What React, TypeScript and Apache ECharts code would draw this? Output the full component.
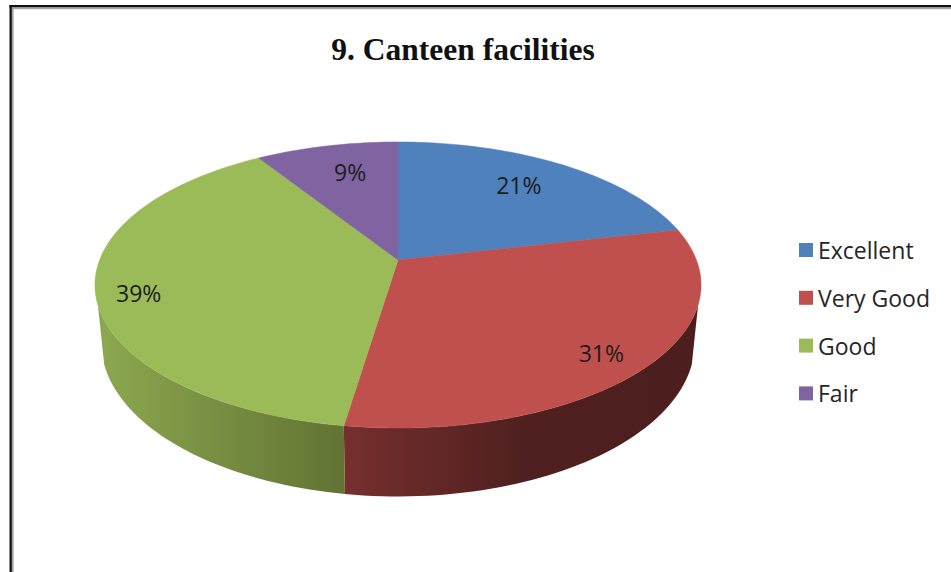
import React, { useEffect, useRef } from "react";
import * as echarts from "echarts";

const categories = ["Excellent", "Very Good", "Good", "Fair"];
const values = [21.4, 31.0, 38.6, 9.0];
const titleText = "9. Canteen facilities";

const topColors = ["#4f81bd", "#c0504d", "#9bbb59", "#8064a2"];
const wallStops = [
  [[0, "#3b608d"], [1, "#3b608d"]],
  [[0, "#762f2e"], [0.5, "#4f201f"], [1, "#4c1e1d"]],
  [[0, "#8ca84f"], [1, "#627334"]],
  [[0, "#5f4a79"], [1, "#5f4a79"]],
];
const labelRadius = [0.72, 0.87, 0.87, 0.74];
const labelNudge = [[-1, -4], [-9, 2], [3, 7], [7, 0]];

// Layout of the perspective projection of the pie's circular top face
const CX = 398;
const APEX_Y = 260;
const PERSP = -0.1748;
const KY = 93.2;
const KX = 298.4;
const RIM_MID_Y = 285;
const BOTTOM_MID_Y = 343;
const BOTTOM_SX = 0.979;
const BOTTOM_SY = 1.073;
const WALL_V = 0.307;
const LABEL_FONT = '23px "Open Sans", sans-serif';

const total = values.reduce((a, b) => a + b, 0);
const TAU = Math.PI * 2;

function project(r: number, t: number): number[] {
  const u = r * Math.sin(t);
  const v = -r * Math.cos(t);
  const d = 1 + PERSP * v;
  return [CX + (KX * u) / d, (KY * v + APEX_Y) / d];
}

function lower(p: number[]): number[] {
  return [CX + (p[0] - CX) * BOTTOM_SX, BOTTOM_MID_Y + (p[1] - RIM_MID_Y) * BOTTOM_SY];
}

function arc(a: number, b: number): number[][] {
  const n = Math.max(2, Math.ceil(((b - a) / TAU) * 240));
  const pts: number[][] = [];
  for (let i = 0; i <= n; i++) pts.push(project(1, a + ((b - a) * i) / n));
  return pts;
}

function sliceRender(index: number) {
  return (_params: any, api: any) => {
    let before = 0;
    for (let i = 0; i < index; i++) before += values[i];
    const value = api.value(0);
    const start = (before / total) * TAU;
    const end = ((before + value) / total) * TAU;
    const children: any[] = [];

    const tWall = Math.acos(-WALL_V);
    const wa = Math.max(start, tWall);
    const wb = Math.min(end, TAU - tWall);
    if (wb > wa) {
      const rim = arc(wa, wb);
      const floor = rim.map(lower).reverse();
      children.push({
        type: "polygon",
        shape: { points: rim.concat(floor) },
        style: {
          fill: new echarts.graphic.LinearGradient(
            0, 0, 1, 0,
            wallStops[index].map((s) => ({ offset: s[0] as number, color: s[1] as string }))
          ),
        },
      });
    }

    children.push({
      type: "polygon",
      z2: 5,
      shape: { points: [project(0, 0)].concat(arc(start, end)) },
      style: { fill: topColors[index], stroke: topColors[index], lineWidth: 0.5 },
    });

    const mid = (start + end) / 2;
    const lp = project(labelRadius[index], mid);
    children.push({
      type: "text",
      z2: 10,
      style: {
        x: lp[0] + labelNudge[index][0],
        y: lp[1] + labelNudge[index][1],
        text: Math.round((value / total) * 100) + "%",
        align: "center",
        verticalAlign: "middle",
        fill: "#1c1c1c",
        font: LABEL_FONT,
      },
    });
    return { type: "group", children };
  };
}

export default function App() {
  const ref = useRef<HTMLDivElement>(null);
  useEffect(() => {
    const chart = echarts.init(ref.current!, undefined, { renderer: "svg" });
    chart.setOption({
      animation: false,
      backgroundColor: "#ffffff",
      title: {
        text: titleText,
        left: 458,
        top: 28,
        textAlign: "center",
        textStyle: {
          fontFamily: '"Liberation Serif", serif',
          fontWeight: "bold",
          fontSize: 31.5,
          color: "#111111",
        },
      },
      legend: {
        orient: "vertical",
        left: 799,
        top: 238,
        padding: 0,
        icon: "rect",
        itemWidth: 14,
        itemHeight: 14,
        itemGap: 23.8,
        data: categories,
        selectedMode: false,
        textStyle: {
          fontFamily: '"Open Sans", sans-serif',
          fontSize: 23,
          color: "#262626",
          lineHeight: 24,
        },
      },
      graphic: [
        { type: "rect", shape: { x: 9.5, y: 5, width: 942, height: 2.5 }, style: { fill: "#111111" } },
        { type: "rect", shape: { x: 12, y: 7.5, width: 939, height: 1.7 }, style: { fill: "#a6a6a6" } },
        { type: "rect", shape: { x: 9.5, y: 5, width: 2.4, height: 567 }, style: { fill: "#111111" } },
        { type: "rect", shape: { x: 11.9, y: 7.5, width: 1.8, height: 565 }, style: { fill: "#a6a6a6" } },
      ],
      series: categories.map((name, i) => ({
        type: "custom",
        name,
        coordinateSystem: "none",
        itemStyle: { color: topColors[i] },
        data: [[values[i]]],
        renderItem: sliceRender(i),
        silent: true,
      })),
    });
    return () => chart.dispose();
  }, []);
  return (
    <div
      ref={ref}
      style={{ position: "absolute", left: 0, top: 0, width: 951, height: 572 }}
    />
  );
}
